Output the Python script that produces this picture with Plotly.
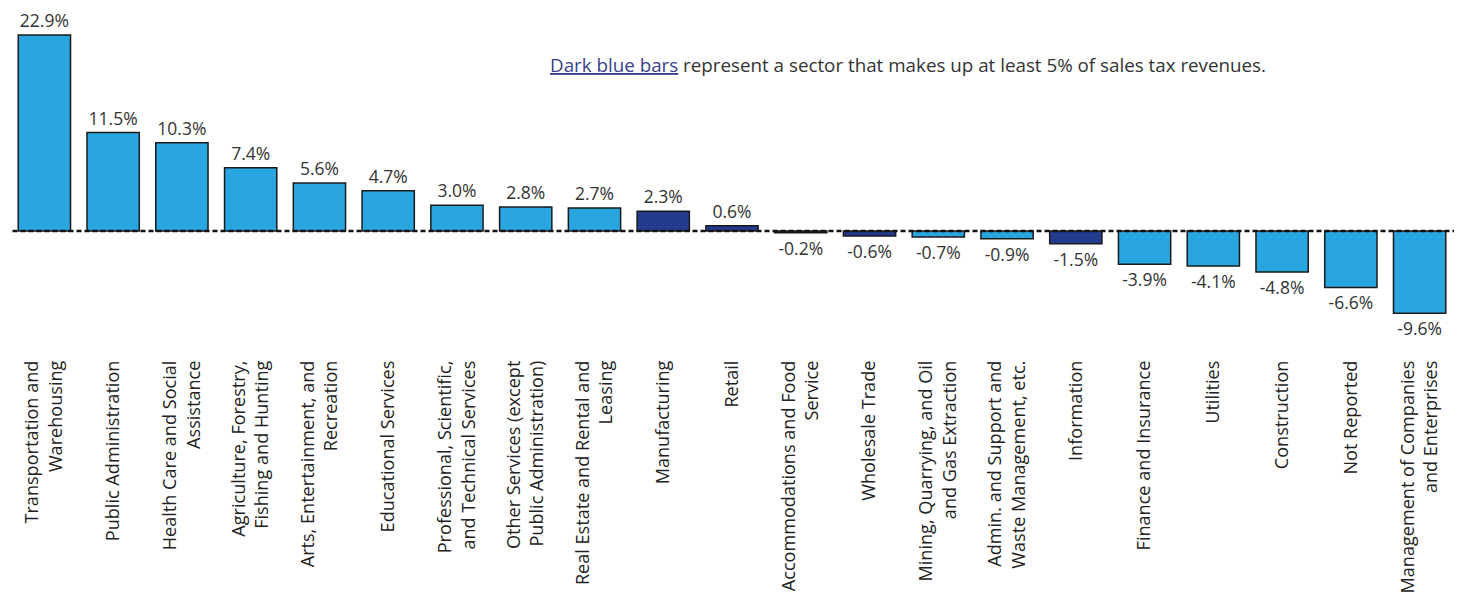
import plotly.graph_objects as go

categories = [
    "Transportation and<br>Warehousing",
    "Public Administration",
    "Health Care and Social<br>Assistance",
    "Agriculture, Forestry,<br>Fishing and Hunting",
    "Arts, Entertainment, and<br>Recreation",
    "Educational Services",
    "Professional, Scientific,<br>and Technical Services",
    "Other Services (except<br>Public Administration)",
    "Real Estate and Rental and<br>Leasing",
    "Manufacturing",
    "Retail",
    "Accommodations and Food<br>Service",
    "Wholesale Trade",
    "Mining, Quarrying, and Oil<br>and Gas Extraction",
    "Admin. and Support and<br>Waste Management, etc.",
    "Information",
    "Finance and Insurance",
    "Utilities",
    "Construction",
    "Not Reported",
    "Management of Companies<br>and Enterprises",
]
values = [22.9, 11.5, 10.3, 7.4, 5.6, 4.7, 3.0, 2.8, 2.7, 2.3, 0.6,
          -0.2, -0.6, -0.7, -0.9, -1.5, -3.9, -4.1, -4.8, -6.6, -9.6]
major_sector = [False, False, False, False, False, False, False, False, False, True, True,
                True, True, False, False, True, False, False, False, False, False]

LIGHT = "#29a6df"
DARK = "#233b8f"
colors = [DARK if m else LIGHT for m in major_sector]
labels = [f"{v:.1f}%" for v in values]

fig = go.Figure(go.Bar(
    x=list(range(len(categories))),
    y=values,
    marker=dict(color=colors, line=dict(color="#1a1a1a", width=1.5)),
    text=labels,
    textposition="outside",
    textfont=dict(family="Open Sans", size=17.5, color="#333333"),
    cliponaxis=False,
))

fig.add_shape(type="line", xref="x", yref="y", x0=-0.58, x1=20.6, y0=0, y1=0,
              line=dict(color="#111111", width=2.5, dash="5px,3px"), layer="above")

fig.add_annotation(
    xref="paper", yref="paper", x=0.3728, y=0.8615, xanchor="left", yanchor="middle",
    text="<span style='color:#3b3f8c'><u>Dark blue bars</u></span> represent a sector that makes up at least 5% of sales tax revenues.",
    showarrow=False, font=dict(family="Open Sans", size=18.8, color="#333333"),
)

fig.update_layout(
    width=1460, height=596,
    margin=dict(l=10, r=6, t=20, b=251, autoexpand=False),
    paper_bgcolor="white", plot_bgcolor="white",
    bargap=0.24,
    showlegend=False,
    xaxis=dict(
        tickmode="array", tickvals=list(range(len(categories))), ticktext=categories,
        tickangle=-90, range=[-0.5, 20.5], showgrid=False, zeroline=False, showline=False,
        ticks="", ticklabelstandoff=11, automargin=False,
        tickfont=dict(family="Open Sans", size=18.1, color="#222222"),
    ),
    yaxis=dict(range=[-13.32, 24.65], visible=False, showgrid=False, zeroline=False,
               automargin=False),
)

fig.write_html("out.html")
